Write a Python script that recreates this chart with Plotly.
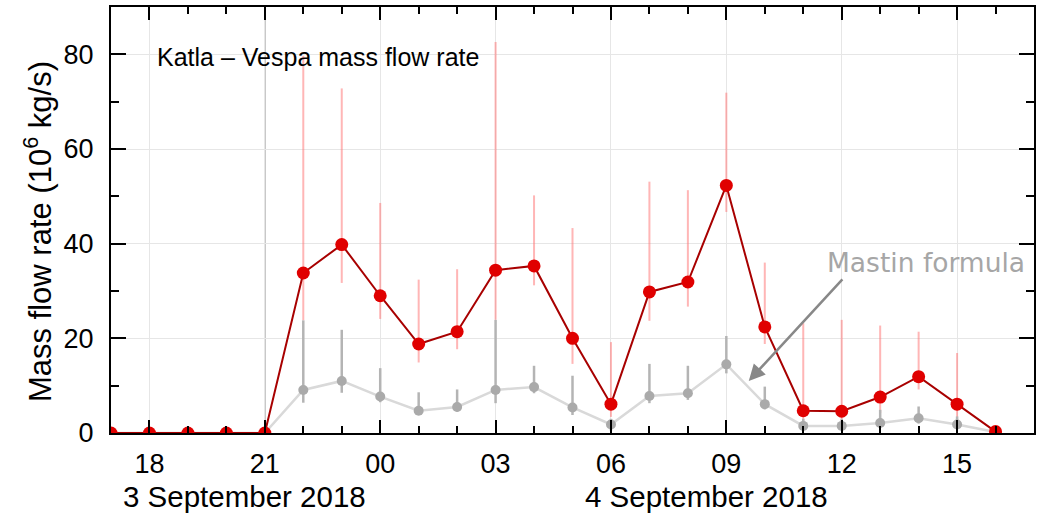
import numpy as np
import plotly.graph_objects as go

# ---- data (hourly, 3 Sep 2018 17:00 -> 4 Sep 2018 16:00) ----
times = ["2018-09-03 17:00", "2018-09-03 18:00", "2018-09-03 19:00", "2018-09-03 20:00",
         "2018-09-03 21:00", "2018-09-03 22:00", "2018-09-03 23:00", "2018-09-04 00:00",
         "2018-09-04 01:00", "2018-09-04 02:00", "2018-09-04 03:00", "2018-09-04 04:00",
         "2018-09-04 05:00", "2018-09-04 06:00", "2018-09-04 07:00", "2018-09-04 08:00",
         "2018-09-04 09:00", "2018-09-04 10:00", "2018-09-04 11:00", "2018-09-04 12:00",
         "2018-09-04 13:00", "2018-09-04 14:00", "2018-09-04 15:00", "2018-09-04 16:00"]

vespa = [0, 0, 0, 0, 0, 33.8, 39.8, 29.0, 18.8, 21.4, 34.4, 35.3,
         20.0, 6.1, 29.8, 31.9, 52.3, 22.4, 4.7, 4.6, 7.6, 11.9, 6.1, 0.3]
vespa_hi = [0, 0, 0, 0, 0, 79.7, 72.8, 48.6, 32.4, 34.6, 82.6, 50.2,
            43.3, 19.2, 53.1, 51.3, 71.9, 36.0, 23.2, 23.9, 22.7, 21.4, 16.9, 0.3]
vespa_lo = [0, 0, 0, 0, 0, 23.8, 31.7, 24.1, 14.9, 17.7, 23.9, 31.2,
            14.6, 3.4, 23.7, 26.7, 46.7, 18.8, 1.7, 1.7, 4.2, 9.2, 2.7, 0.3]

mastin = [0, 0, 0, 0, 0, 9.1, 11.0, 7.7, 4.7, 5.5, 9.1, 9.7,
          5.4, 1.8, 7.8, 8.4, 14.5, 6.1, 1.5, 1.5, 2.1, 3.1, 1.8, 0.2]
mastin_hi = [0, 0, 0, 0, 0, 23.8, 21.8, 13.7, 8.6, 9.2, 23.9, 14.2,
             12.1, 3.0, 14.6, 14.2, 20.5, 9.8, 3.0, 3.0, 4.9, 5.6, 3.5, 0.2]
mastin_lo = [0, 0, 0, 0, 0, 6.4, 8.5, 6.5, 4.0, 4.5, 6.3, 8.4,
             3.8, 0.5, 6.3, 7.0, 12.6, 5.0, 1.0, 1.0, 1.5, 2.0, 1.0, 0.1]

y_ticks = [0, 20, 40, 60, 80]
date_labels = ["3 September 2018", "4 September 2018"]
date_label_pos = ["2018-09-03 20:29", "2018-09-04 08:29"]
onset_time = "2018-09-03 21:00"

v = np.array(vespa); vh = np.array(vespa_hi); vl = np.array(vespa_lo)
m = np.array(mastin); mh = np.array(mastin_hi); ml = np.array(mastin_lo)

FONT = "Liberation Sans, Arial, sans-serif"

fig = go.Figure()

# red uncertainty bars
fig.add_trace(go.Scatter(
    x=times, y=vespa, mode="markers",
    marker=dict(size=1, color="rgba(0,0,0,0)"),
    error_y=dict(type="data", symmetric=False, array=vh - v, arrayminus=v - vl,
                 width=0, thickness=2, color="rgba(255,110,110,0.5)"),
    showlegend=False, hoverinfo="skip"))

# Mastin formula (gray)
fig.add_trace(go.Scatter(
    x=times, y=mastin, mode="lines+markers",
    line=dict(color="#d9d9d9", width=2.5),
    marker=dict(size=10, color="#aaaaaa"),
    error_y=dict(type="data", symmetric=False, array=mh - m, arrayminus=m - ml,
                 width=0, thickness=2.5, color="#b4b4b4"),
    showlegend=False))

# Vespa (red)
fig.add_trace(go.Scatter(
    x=times, y=vespa, mode="lines+markers",
    line=dict(color="#a80000", width=2),
    marker=dict(size=13, color="#e00000"),
    showlegend=False))

# eruption onset line
fig.add_shape(type="line", xref="x", yref="paper", x0=onset_time, x1=onset_time,
              y0=0, y1=1, line=dict(color="#a0a0a0", width=1.5), layer="below")

axis_common = dict(showline=True, linecolor="black", linewidth=2, mirror="allticks",
                   ticks="inside", tickcolor="black", tickwidth=2,
                   showgrid=True, gridcolor="#e6e6e6", gridwidth=1, zeroline=False,
                   tickfont=dict(family=FONT, size=27, color="black"))

fig.update_xaxes(**axis_common, type="date",
                 range=["2018-09-03 17:00", "2018-09-04 17:00"],
                 tick0="2018-09-03 00:00", dtick=3 * 3600000, tickformat="%H",
                 ticklen=13,
                 minor=dict(dtick=3600000, tick0="2018-09-03 00:00", ticks="inside",
                            ticklen=7, tickwidth=2, tickcolor="black", showgrid=False),
                 ticklabelstandoff=6)
fig.update_yaxes(**axis_common, range=[0, 90], tickvals=y_ticks, ticklen=15,
                 minor=dict(dtick=10, ticks="inside", ticklen=8, tickwidth=2,
                            tickcolor="black", showgrid=False),
                 ticklabelstandoff=10)

annotations = [
    dict(text="Katla \u2013 Vespa mass flow rate", xref="paper", yref="y",
         x=(155 - 111) / 925, y=79.5, xanchor="left", yanchor="middle", showarrow=False,
         font=dict(family=FONT, size=25, color="black")),
    dict(text="Mastin formula", xref="x", yref="y", x="2018-09-04 14:12", y=36.0,
         xanchor="center", yanchor="middle", showarrow=False,
         font=dict(family="DejaVu Sans, sans-serif", size=26.5, color="#a6a6a6")),
    dict(text="", xref="x", yref="y", x="2018-09-04 09:35", y=11.0,
         ax=95, ay=-103, showarrow=True, arrowhead=2, arrowsize=1.3,
         arrowwidth=2.5, arrowcolor="#888888"),
    dict(text="Mass flow rate (10<sup>6</sup> kg/s)", xref="paper", yref="paper",
         x=(38 - 111) / 925, y=0.472, textangle=-90, showarrow=False,
         xanchor="center", yanchor="middle",
         font=dict(family=FONT, size=31, color="black")),
]
for lbl, pos in zip(date_labels, date_label_pos):
    annotations.append(dict(text=lbl, xref="x", yref="paper", x=pos, y=(433 - 496) / 426,
                            xanchor="center", yanchor="middle", showarrow=False,
                            font=dict(family=FONT, size=29.5, color="black")))

fig.update_layout(width=1041, height=514, margin=dict(l=111, r=5, t=7, b=81),
                  paper_bgcolor="white", plot_bgcolor="white",
                  annotations=annotations, showlegend=False)

fig.write_html("out.html")
